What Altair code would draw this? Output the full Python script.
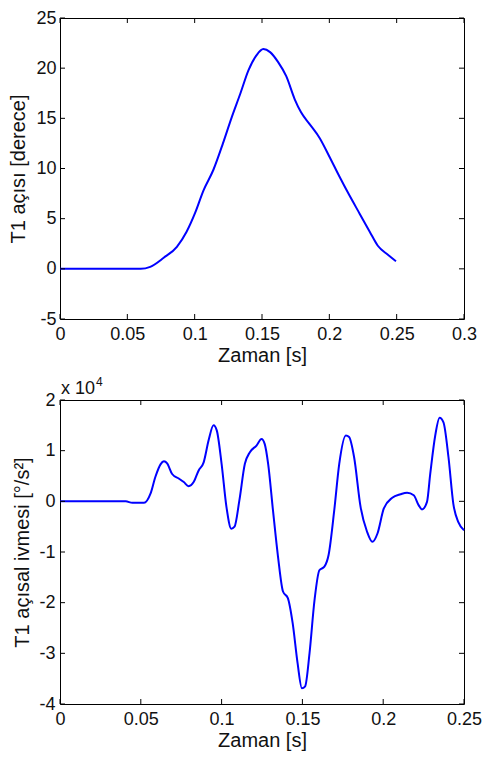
import altair as alt
import pandas as pd

# ---- data ----
t1_time = [0, 0.06, 0.067, 0.077, 0.0868, 0.094, 0.1004, 0.1065, 0.114, 0.121,
           0.1275, 0.134, 0.14, 0.146, 0.151, 0.156, 0.162, 0.168, 0.1743, 0.179,
           0.1855, 0.193, 0.2, 0.2075, 0.215, 0.2225, 0.23, 0.236, 0.2435, 0.2495]
t1_angle = [0, 0, 0.2, 1.1, 2.2, 3.7, 5.6, 7.8, 9.9, 12.5,
            15.1, 17.5, 19.8, 21.3, 21.9, 21.6, 20.6, 19.2, 16.9, 15.6,
            14.4, 13.0, 11.2, 9.2, 7.3, 5.5, 3.7, 2.3, 1.4, 0.75]

acc_time = [0, 0.0407, 0.0448, 0.052, 0.056, 0.059, 0.0622, 0.0643, 0.0663, 0.0694,
            0.0735, 0.0766, 0.0796, 0.0827, 0.0858, 0.0889, 0.092, 0.095, 0.097, 0.100,
            0.103, 0.106, 0.108, 0.111, 0.1144, 0.1175, 0.1216, 0.1247, 0.1267, 0.1288,
            0.1318, 0.1349, 0.138, 0.141, 0.144, 0.147, 0.1497, 0.1517, 0.1544, 0.1575,
            0.1605, 0.1636, 0.1662, 0.1697, 0.1728, 0.1769, 0.1789, 0.182, 0.186, 0.190,
            0.1933, 0.1964, 0.2004, 0.2056, 0.2107, 0.2148, 0.2189, 0.222, 0.224, 0.2271,
            0.2291, 0.2322, 0.2349, 0.2373, 0.2404, 0.2434, 0.2465, 0.25]
acc_val = [0, 0, -0.03, -0.03, 0.15, 0.48, 0.73, 0.79, 0.75, 0.54,
           0.45, 0.38, 0.30, 0.38, 0.61, 0.77, 1.21, 1.50, 1.40, 0.74,
           -0.11, -0.54, -0.50, 0.02, 0.74, 0.97, 1.10, 1.23, 1.13, 0.74,
           -0.18, -1.09, -1.78, -1.91, -2.41, -3.19, -3.69, -3.65, -3.0, -1.95,
           -1.36, -1.29, -1.06, -0.18, 0.74, 1.30, 1.27, 0.87, -0.11, -0.60,
           -0.80, -0.64, -0.14, 0.07, 0.14, 0.17, 0.12, -0.08, -0.16, -0.01,
           0.54, 1.30, 1.65, 1.56, 0.87, -0.05, -0.41, -0.57]

top_xticks = [0, 0.05, 0.1, 0.15, 0.2, 0.25, 0.3]
top_yticks = [-5, 0, 5, 10, 15, 20, 25]
bot_xticks = [0, 0.05, 0.1, 0.15, 0.2, 0.25]
bot_yticks = [-4, -3, -2, -1, 0, 1, 2]

FONT = "Liberation Sans"
BLUE = "#0000ff"
TICK = 5
TXT = "#111111"


def panel(times, vals, xticks, yticks, xtitle, ytitle, W, H, lab_pad_y, title_pad_y):
    xs = alt.Scale(domain=[xticks[0], xticks[-1]], nice=False, zero=False)
    ys = alt.Scale(domain=[yticks[0], yticks[-1]], nice=False, zero=False)
    xax = alt.Axis(values=xticks, title=xtitle, ticks=False, domain=False, grid=False,
                   labelExpr="'' + datum.value", labelFlush=False, labelOverlap=False,
                   labelPadding=6, titlePadding=2, labelFont=FONT, titleFont=FONT,
                   labelFontSize=18, titleFontSize=20, labelColor=TXT, titleColor=TXT,
                   titleFontWeight="normal")
    yax = alt.Axis(values=yticks, title=ytitle, ticks=False, domain=False, grid=False,
                   labelExpr="'' + datum.value", labelFlush=False, labelOverlap=False,
                   labelPadding=lab_pad_y, titlePadding=title_pad_y, labelFont=FONT,
                   titleFont=FONT, labelFontSize=18, titleFontSize=20, labelColor=TXT,
                   titleColor=TXT, titleFontWeight="normal")

    df = pd.DataFrame({"x": times, "y": vals})
    line = alt.Chart(df).mark_line(color=BLUE, strokeWidth=2, interpolate="monotone").encode(
        x=alt.X("x:Q", scale=xs, axis=xax),
        y=alt.Y("y:Q", scale=ys, axis=yax),
    )
    xt = pd.DataFrame({"x": xticks})
    yt = pd.DataFrame({"y": yticks})
    xb = alt.Chart(xt).mark_rule(color="black", strokeWidth=1).encode(
        x=alt.X("x:Q", scale=xs, axis=xax), y=alt.value(H), y2=alt.value(H - TICK))
    xtp = alt.Chart(xt).mark_rule(color="black", strokeWidth=1).encode(
        x=alt.X("x:Q", scale=xs, axis=xax), y=alt.value(0), y2=alt.value(TICK))
    yl = alt.Chart(yt).mark_rule(color="black", strokeWidth=1).encode(
        y=alt.Y("y:Q", scale=ys, axis=yax), x=alt.value(0), x2=alt.value(TICK))
    yr = alt.Chart(yt).mark_rule(color="black", strokeWidth=1).encode(
        y=alt.Y("y:Q", scale=ys, axis=yax), x=alt.value(W - TICK), x2=alt.value(W))
    return [line, xb, xtp, yl, yr]


W = 404
H_TOP = 301
H_BOT = 304
top = alt.layer(*panel(t1_time, t1_angle, top_xticks, top_yticks, "Zaman [s]",
                       "T1 açısı [derece]", W, H_TOP, 4, 7)).properties(
    width=W, height=H_TOP, view=alt.ViewBackground(stroke="black", strokeWidth=1))

one = pd.DataFrame({"k": [0]})
exp_base = alt.Chart(one).mark_text(font=FONT, fontSize=18, align="left", baseline="alphabetic",
                                    color=TXT).encode(
    text=alt.value("x 10"), x=alt.value(1), y=alt.value(-6))
exp_sup = alt.Chart(one).mark_text(font=FONT, fontSize=12, align="left", baseline="alphabetic",
                                   color=TXT).encode(
    text=alt.value("4"), x=alt.value(36), y=alt.value(-14))

bottom = alt.layer(*panel(acc_time, acc_val, bot_xticks, bot_yticks, "Zaman [s]",
                          "T1 açısal ivmesi [°/s²]", W, H_BOT, 5, 6),
                   exp_base, exp_sup).properties(
    width=W, height=H_BOT, view=alt.ViewBackground(stroke="black", strokeWidth=1))

chart = alt.vconcat(top, bottom, spacing=9).properties(
    padding={"left": 0, "top": 0, "right": 0, "bottom": 0}
).configure(background="white")

chart.save("out.html", embed_options={"renderer": "svg", "actions": False})
